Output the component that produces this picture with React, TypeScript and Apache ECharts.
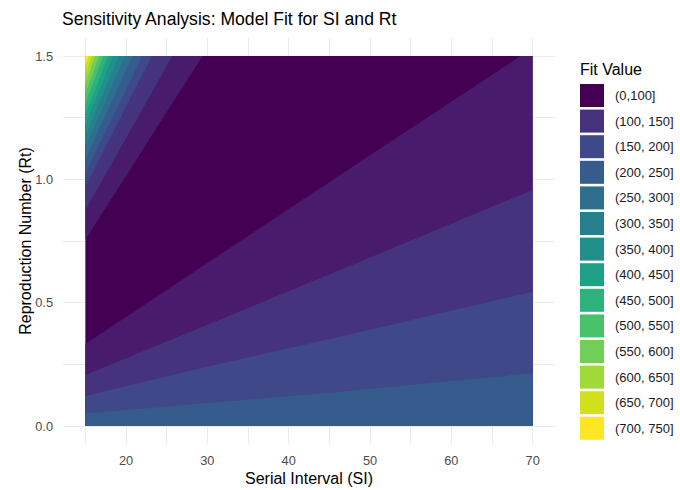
import React, { useEffect, useRef } from "react";
import * as echarts from "echarts";

const TITLE = "Sensitivity Analysis: Model Fit for SI and Rt";
const X_NAME = "Serial Interval (SI)";
const Y_NAME = "Reproduction Number (Rt)";
const LEGEND_TITLE = "Fit Value";

const SI_RANGE = [15, 70];
const RT_RANGE = [0, 1.5];
const X_LABELS = [20, 30, 40, 50, 60, 70];
const X_GRID = [15, 20, 25, 30, 35, 40, 45, 50, 55, 60, 65, 70];
const Y_LABELS = [0, 0.5, 1.0, 1.5];
const Y_GRID = [0, 0.25, 0.5, 0.75, 1.0, 1.25, 1.5];

const LEVEL_LABELS = [
  "(0,100]", "(100, 150]", "(150, 200]", "(200, 250]", "(250, 300]", "(300, 350]", "(350, 400]",
  "(400, 450]", "(450, 500]", "(500, 550]", "(550, 600]", "(600, 650]", "(650, 700]", "(700, 750]",
];
const LEVEL_COLORS = [
  "#440154", "#46337E", "#3F4889", "#365C8D", "#2E6E8E", "#277F8E", "#21908C",
  "#1FA187", "#2DB27D", "#4AC16D", "#71CF57", "#A0DA39", "#D0E11C", "#FDE725",
];
// colours of the filled bands in the panel, from the lowest fit outward
const BAND_COLORS = [
  "#440154", "#481B6D", "#46337E", "#3F4889", "#365C8D", "#2E6E8E", "#277F8E", "#21908C",
  "#1FA187", "#2DB27D", "#4AC16D", "#71CF57", "#A0DA39", "#D0E11C", "#FDE725",
];

// contour boundaries below the darkest region, as [SI, Rt] polylines
const LOWER_BOUNDARIES = [
  [[15, 0.332], [40, 0.88], [68.5, 1.5]],
  [[15, 0.207], [46.3, 0.632], [70, 0.957]],
  [[15, 0.122], [29.9, 0.24], [46.3, 0.362], [70, 0.544]],
  [[15, 0.051], [29.9, 0.092], [46.3, 0.139], [70, 0.214]],
];
// contour boundaries above the darkest region: Rt where each meets SI = 15, SI where it meets Rt = 1.5
const UPPER_LEFT_RT = [0.755, 0.875, 0.97, 1.023, 1.082, 1.131, 1.178, 1.223, 1.264, 1.308, 1.347, 1.389, 1.424, 1.461];
const UPPER_TOP_SI = [29.4, 25.7, 23.2, 22.0, 20.8, 19.9, 19.1, 18.4, 17.8, 17.2, 16.7, 16.2, 15.8, 15.4];

const FONT = "'Liberation Sans', Arial, sans-serif";

type Poly = { pts: number[][]; color: string };

function buildPolys(): Poly[] {
  const [x0, x1] = SI_RANGE;
  const [y0, y1] = RT_RANGE;
  const polys: Poly[] = [];
  polys.push({ pts: [[x0, y0], [x1, y0], [x1, y1], [x0, y1]], color: BAND_COLORS[0] });
  LOWER_BOUNDARIES.forEach((line, k) => {
    const pts = line.map((p) => [p[0], p[1]]);
    const last = line[line.length - 1];
    if (last[1] >= y1 && last[0] < x1) pts.push([x1, y1]);
    pts.push([x1, y0], [x0, y0]);
    polys.push({ pts, color: BAND_COLORS[k + 1] });
  });
  UPPER_LEFT_RT.forEach((r, k) => {
    polys.push({ pts: [[x0, r], [UPPER_TOP_SI[k], y1], [x0, y1]], color: BAND_COLORS[k + 1] });
  });
  return polys;
}

export default function App() {
  const ref = useRef<HTMLDivElement>(null);
  useEffect(() => {
    document.body.style.margin = "0";
    if (!ref.current) return;
    const chart = echarts.init(ref.current, null, { renderer: "svg" });
    const polys = buildPolys();
    const xPad = (SI_RANGE[1] - SI_RANGE[0]) * 0.05;
    const yPad = (RT_RANGE[1] - RT_RANGE[0]) * 0.05;
    chart.setOption({
      animation: false,
      backgroundColor: "#FFFFFF",
      title: [
        {
          text: TITLE,
          left: 62,
          top: 10,
          padding: 0,
          textStyle: { fontSize: 17.6, fontWeight: "normal", color: "#000000", fontFamily: FONT, lineHeight: 18 },
        },
        {
          text: LEGEND_TITLE,
          left: 580,
          top: 61.5,
          padding: 0,
          textStyle: { fontSize: 16, fontWeight: "normal", color: "#000000", fontFamily: FONT, lineHeight: 16 },
        },
      ],
      grid: {
        left: 63,
        top: 37.5,
        right: 125,
        bottom: 45.5,
        containLabel: false,
        outerBoundsMode: "none",
      },
      xAxis: {
        type: "value",
        min: SI_RANGE[0] - xPad,
        max: SI_RANGE[1] + xPad,
        name: X_NAME,
        nameLocation: "middle",
        nameGap: 26,
        nameMoveOverlap: false,
        nameTextStyle: { fontSize: 16, color: "#000000", fontFamily: FONT, lineHeight: 16 },
        axisLine: { show: false, onZero: false },
        axisTick: { show: false, customValues: X_GRID },
        axisLabel: {
          customValues: X_LABELS,
          margin: 9.8,
          fontSize: 12.8,
          color: "#4D4D4D",
          fontFamily: FONT,
        },
        splitLine: { show: true, lineStyle: { color: "#EBEBEB", width: 1 } },
      },
      yAxis: {
        type: "value",
        min: RT_RANGE[0] - yPad,
        max: RT_RANGE[1] + yPad,
        name: Y_NAME,
        nameLocation: "middle",
        nameGap: 30,
        nameRotate: 90,
        nameMoveOverlap: false,
        nameTextStyle: { fontSize: 16, color: "#000000", fontFamily: FONT, lineHeight: 16 },
        axisLine: { show: false, onZero: false },
        axisTick: { show: false, customValues: Y_GRID },
        axisLabel: {
          customValues: Y_LABELS,
          margin: 10,
          fontSize: 12.8,
          color: "#4D4D4D",
          fontFamily: FONT,
          formatter: (v: number) => v.toFixed(1),
        },
        splitLine: { show: true, lineStyle: { color: "#EBEBEB", width: 1 } },
      },
      legend: {
        orient: "vertical",
        left: 580,
        top: 84,
        padding: 0,
        itemWidth: 24,
        itemHeight: 23,
        itemGap: 2.6,
        icon: "rect",
        selectedMode: false,
        data: LEVEL_LABELS,
        itemStyle: { opacity: 1 },
        textStyle: { fontSize: 13, color: "#1A1A1A", fontFamily: FONT, padding: [0, 0, 0, 6] },
      },
      series: [
        {
          type: "custom",
          coordinateSystem: "cartesian2d",
          silent: true,
          clip: true,
          data: polys.map((p, i) => [p.pts[0][0], p.pts[0][1], i]),
          encode: { x: 0, y: 1 },
          renderItem: (params: any, api: any) => {
            const poly = polys[params.dataIndex];
            return {
              type: "polygon",
              shape: { points: poly.pts.map((p) => api.coord(p)) },
              style: { fill: poly.color },
            };
          },
        },
        ...LEVEL_LABELS.map((name, i) => ({
          type: "scatter",
          name,
          data: [],
          itemStyle: { color: LEVEL_COLORS[i], opacity: 1 },
        })),
      ],
    });
    return () => chart.dispose();
  }, []);
  return <div ref={ref} style={{ width: 680, height: 490 }} />;
}
